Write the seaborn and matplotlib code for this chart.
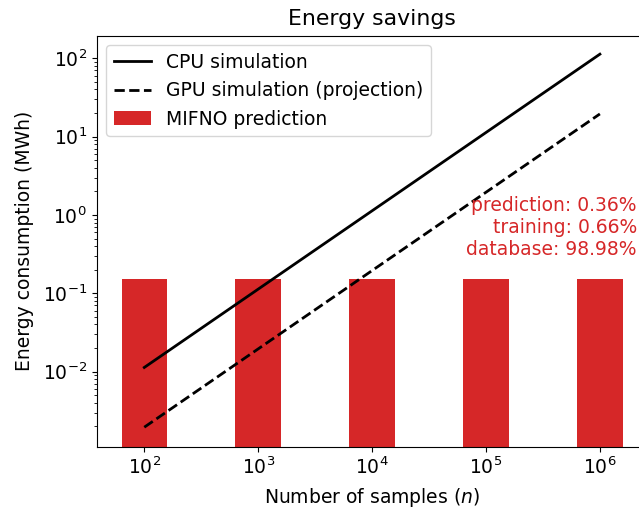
import numpy as np
import matplotlib
matplotlib.use("Agg")
import matplotlib.pyplot as plt
import seaborn as sns

# Number of samples (as powers of ten) and energy figures in MWh
sample_labels = ["$10^2$", "$10^3$", "$10^4$", "$10^5$", "$10^6$"]
cpu_energy = [0.0113, 0.113, 1.13, 11.3, 113.0]
gpu_energy = [0.00195, 0.0195, 0.195, 1.95, 19.5]
mifno_energy = [0.15, 0.15, 0.15, 0.15, 0.15]
breakdown_text = "prediction: 0.36%\ntraining: 0.66%\ndatabase: 98.98%"

plt.rcParams["font.size"] = 13.5

fig = plt.figure(figsize=(6.39, 5.08), dpi=100)
ax = fig.add_axes([0.1513, 0.1207, 0.862, 0.8085])
ax.set_yscale("log")

pos = np.arange(len(sample_labels))

sns.barplot(x=pos, y=mifno_energy, width=0.4, color="#d62728", saturation=1,
            native_scale=True, ax=ax, label="MIFNO prediction", zorder=1)
sns.lineplot(x=pos, y=cpu_energy, color="black", lw=2, ax=ax,
             label="CPU simulation", zorder=3)
sns.lineplot(x=pos, y=gpu_energy, color="black", lw=2, ls="--", ax=ax,
             label="GPU simulation (projection)", zorder=3)

ax.set_xticks(pos)
ax.set_xticklabels(sample_labels)
ax.set_xlim(-0.418, 4.418)
ax.set_ylim(1.1e-3, 193)

ax.text(4.325, 0.70, breakdown_text, color="#d62728", ha="right", va="center",
        fontsize=13.5)

handles, labels = ax.get_legend_handles_labels()
order = [labels.index(l) for l in ["CPU simulation", "GPU simulation (projection)", "MIFNO prediction"]]
ax.legend([handles[i] for i in order], [labels[i] for i in order], loc="upper left")

ax.set_title("Energy savings", fontsize=15.8, pad=8)
ax.set_xlabel("Number of samples ($n$)", labelpad=5.5)
ax.set_ylabel("Energy consumption (MWh)", labelpad=6)

fig.savefig("out.png", dpi=100)
